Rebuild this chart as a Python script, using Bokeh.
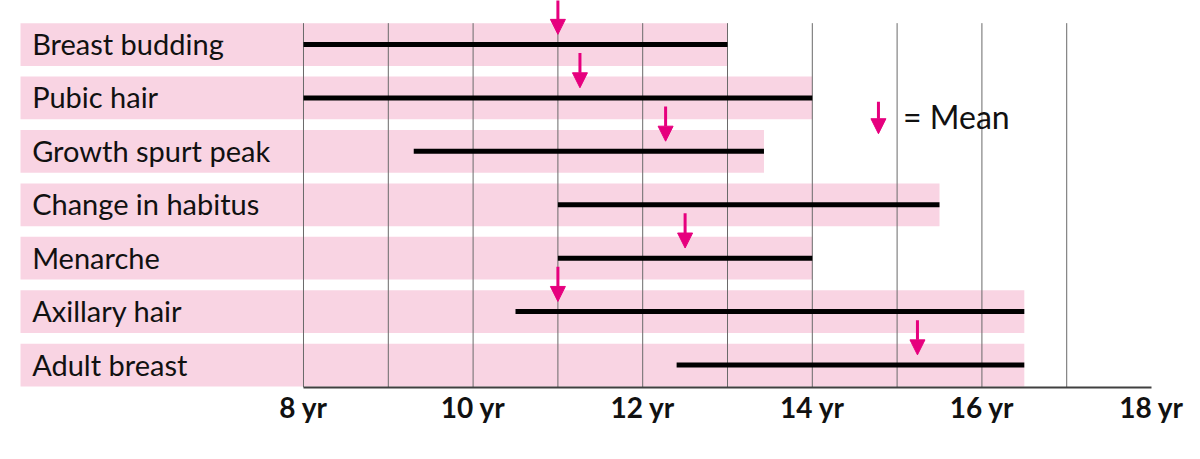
from bokeh.plotting import figure
from bokeh.models import Range1d, LinearAxis, FixedTicker, Arrow, NormalHead, ColumnDataSource
from bokeh.core.properties import value
from bokeh.embed import file_html
from bokeh.resources import INLINE

# ---------------- data ----------------
labels = ["Breast budding", "Pubic hair", "Growth spurt peak", "Change in habitus",
          "Menarche", "Axillary hair", "Adult breast"]
range_start = [8.0, 8.0, 9.3, 11.0, 11.0, 10.5, 12.4]
range_end = [13.0, 14.0, 13.43, 15.5, 14.0, 16.5, 16.5]
mean_age = [11.0, 11.26, 12.27, None, 12.5, 11.0, 15.24]
tick_years = [8, 10, 12, 14, 16, 18]
tick_labels = ["8 yr", "10 yr", "12 yr", "14 yr", "16 yr", "18 yr"]
grid_years = [8, 9, 10, 11, 12, 13, 14, 15, 16, 17]

# ---------------- style / layout ----------------
FONT = "Lato"
PINK = "#F9D4E3"
MAGENTA = "#E6007E"
X_START, X_END = 4.427, 18.389
Y_BOTTOM, Y_TOP = 6.421, -0.824
BAND_LEFT = 4.663
LABEL_X = 4.80
BAND_H = 0.80

rows = list(range(len(labels)))

p = figure(width=1184, height=443, output_backend="svg", toolbar_location=None,
           x_range=Range1d(X_START, X_END), y_range=Range1d(Y_BOTTOM, Y_TOP),
           min_border_left=0, min_border_right=0, min_border_top=0, min_border_bottom=56,
           x_axis_location=None, y_axis_location=None)
p.outline_line_color = None
p.xgrid.visible = False
p.ygrid.visible = False
p.background_fill_color = "white"
p.border_fill_color = "white"

# pink bands
band_src = ColumnDataSource(dict(y=rows, left=[BAND_LEFT] * len(rows), right=range_end))
p.hbar(y="y", left="left", right="right", height=BAND_H, source=band_src,
       fill_color=PINK, line_color=None)

# vertical grid lines
p.segment(x0=grid_years, x1=grid_years, y0=[-BAND_H / 2] * len(grid_years),
          y1=[Y_BOTTOM] * len(grid_years), line_color="#6a6a6a", line_width=1)

# range bars
bar_src = ColumnDataSource(dict(y=rows, x0=range_start, x1=range_end))
p.segment(x0="x0", x1="x1", y0="y", y1="y", source=bar_src,
          line_color="black", line_width=5, line_cap="butt")

# row labels
p.text(x=[LABEL_X] * len(rows), y=rows, text=labels, text_font=value(FONT),
       text_font_size="29px", text_color="#111111", text_baseline="middle",
       text_align="left", y_offset=-1)


def mean_head():
    return NormalHead(size=15, fill_color=MAGENTA, line_color=MAGENTA, line_width=1)


# mean arrows
for r, m in zip(rows, mean_age):
    if m is None:
        continue
    p.add_layout(Arrow(end=mean_head(), x_start=m, y_start=r - 0.84, x_end=m, y_end=r - 0.19,
                       line_color=MAGENTA, line_width=3))

# legend
p.add_layout(Arrow(end=mean_head(), x_start=14.78, y_start=1.07, x_end=14.78, y_end=1.67,
                   line_color=MAGENTA, line_width=3))
p.text(x=[15.07], y=[1.34], text=["= Mean"], text_font=value(FONT),
       text_font_size="32px", text_color="#111111", text_baseline="middle",
       text_align="left")

# x axis
ax = LinearAxis(ticker=FixedTicker(ticks=tick_years), bounds=(8, 18))
ax.major_label_overrides = {t: l for t, l in zip(tick_years, tick_labels)}
ax.major_tick_line_color = None
ax.minor_tick_line_color = None
ax.axis_line_color = "#404040"
ax.axis_line_width = 2
ax.major_label_text_font = FONT
ax.major_label_text_font_style = "bold"
ax.major_label_text_font_size = "28px"
ax.major_label_text_color = "#111111"
ax.major_label_standoff = -4
p.add_layout(ax, "below")

open("out.html", "w").write(file_html(p, INLINE))
